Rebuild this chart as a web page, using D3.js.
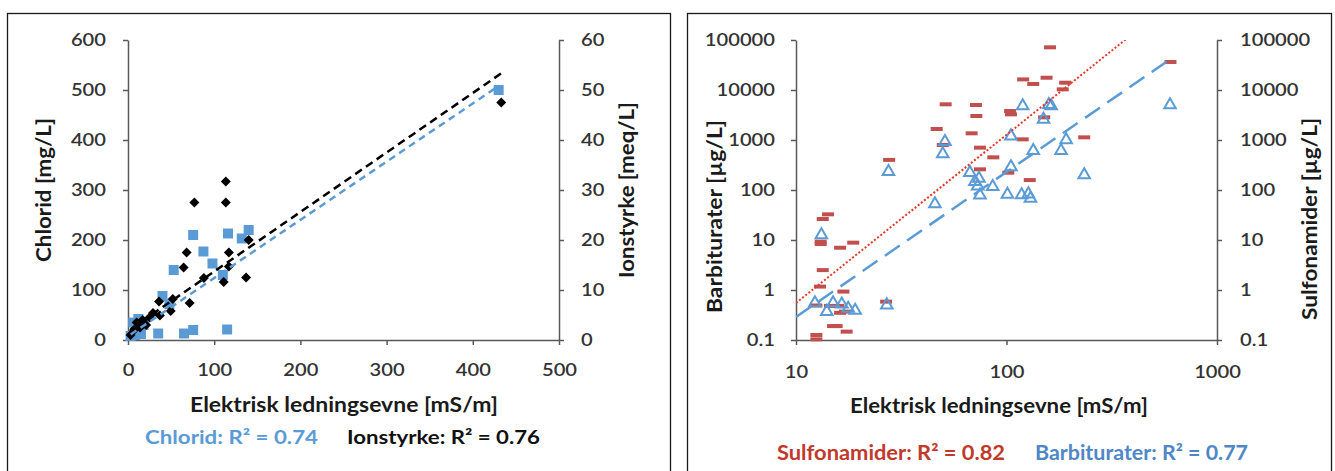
<!DOCTYPE html>
<html>
<head>
<meta charset="utf-8">
<script src="https://cdn.jsdelivr.net/npm/d3@7"></script>
<style>
  body { margin: 0; background: #fff; }
  text { font-family: Lato, "Open Sans", sans-serif; }
</style>
</head>
<body>
<script>
// ---- data ----
// left panel: conductivity [mS/m] vs chloride [mg/L] and ionic strength [meq/L]
var chloridEC  = [75.6, 116, 140, 132, 87.5, 98, 53, 110, 40, 48, 35, 65, 75.6, 115, 430, 3, 6, 12, 8, 15, 18];
var chloridVal = [210, 213, 220, 203, 177, 153, 140, 130, 88, 72, 13, 13, 20, 21, 500, 8, 35, 42, 10, 12, 30];
var ionEC  = [113.5, 113.5, 77, 68, 117, 140, 64.5, 117, 88, 111, 137, 71.5, 52, 49.5, 36, 37, 433, 3, 7, 10, 14, 17, 21, 25, 29];
var ionVal = [31.7, 27.5, 27.5, 17.5, 17.5, 20, 14.5, 14.7, 12.4, 11.6, 12.5, 7.4, 8.2, 5.8, 7.7, 4.9, 47.5, 1, 2, 3.5, 2.5, 4, 3, 4.5, 5.4];
var chloridTrend = [1.164, 7.5];   // slope, intercept
var ionTrend = [0.119, 1.8];
var chloridTicks = [0, 100, 200, 300, 400, 500, 600];
var ionTicks = [0, 10, 20, 30, 40, 50, 60];
var ecTicks = [0, 100, 200, 300, 400, 500];

// right panel: conductivity [mS/m] vs sulfonamides / barbiturates [µg/L]
var sulfoEC  = [161, 120, 134, 155, 190, 185, 51.4, 71.6, 71.9, 104, 105, 151, 46.6, 68.3, 49.8, 74.8, 119.4, 86.6, 74.8, 102, 129, 234, 601, 27.7, 26.8,
                14.2, 13.4, 13.1, 13.1, 16.2, 18.7, 13.4, 13.0, 16.8, 12.5, 14.5, 15.9, 17.1, 16.2, 15.6, 15, 17.4, 12.5, 12.5];
var sulfoVal = [71300, 16300, 13200, 17600, 14000, 10300, 5170, 5010, 3020, 3800, 3260, 2840, 1660, 1360, 794, 703, 1030, 450, 259, 222, 158, 1130, 36300, 400, 0.585,
                32.6, 26.3, 9.26, 8.3, 7.0, 8.85, 2.5, 1.17, 0.93, 0.49, 0.48, 0.48, 0.37, 0.35, 0.19, 0.19, 0.147, 0.126, 0.103];
var barbEC  = [45.7, 13.2, 12.3, 14, 15, 16.5, 17.7, 19.1, 27, 27.5, 51, 49.8, 119.4, 159, 163, 150, 105, 134, 192, 181.6, 105, 67, 70.8, 73, 74, 74.8, 86, 101, 118, 127, 130, 234, 598];
var barbVal = [52.5, 12.6, 0.55, 0.37, 0.55, 0.52, 0.43, 0.39, 0.5, 233, 926, 525, 4790, 5090, 4790, 2590, 1200, 612, 1000, 612, 290, 222, 147, 120, 170, 79, 117, 82, 79.4, 83, 68, 200, 5010];
var sulfoTrend = [3.365, -3.625];  // log10 y = a*log10 x + b
var barbTrend = [2.9, -3.44];
var logYTicks = [0.1, 1, 10, 100, 1000, 10000, 100000];
var logXTicks = [10, 100, 1000];

var blue = "#5b9bd5", red = "#c0504d", axisCol = "#595959", txtCol = "#333";

var svg = d3.select("body").append("svg").attr("width", 1335).attr("height", 471);

// panel frames
svg.append("rect").attr("x", 7.5).attr("y", 13.5).attr("width", 663).attr("height", 470)
  .attr("fill", "none").attr("stroke", "#1a1a1a").attr("stroke-width", 1.3);
svg.append("rect").attr("x", 687.5).attr("y", 13.5).attr("width", 644).attr("height", 470)
  .attr("fill", "none").attr("stroke", "#1a1a1a").attr("stroke-width", 1.3);

function styleAxis(g) {
  g.select(".domain").attr("stroke", axisCol).attr("stroke-width", 1.5);
  g.selectAll(".tick line").attr("stroke", axisCol).attr("stroke-width", 1.5);
  g.selectAll("text").attr("font-size", 18).attr("fill", txtCol).attr("font-weight", 600)
    .style("font-family", "Lato, sans-serif")
    .each(function() {
      var w = this.getComputedTextLength();
      d3.select(this).attr("textLength", w * 1.12).attr("lengthAdjust", "spacingAndGlyphs");
    });
}

function label(x, y, str, opts) {
  var t = svg.append("text")
    .attr("transform", "translate(" + x + "," + y + ")" + (opts.rotate ? " rotate(-90)" : ""))
    .attr("text-anchor", opts.anchor || "start")
    .attr("font-size", opts.size || 20)
    .attr("font-weight", "bold")
    .attr("fill", opts.color || "#1a1a1a")
    .text(str);
  if (opts.width) t.attr("textLength", opts.width).attr("lengthAdjust", "spacingAndGlyphs");
  return t;
}

// ===== left panel =====
var xLin = d3.scaleLinear().domain([0, 500]).range([128, 559]);
var yCl = d3.scaleLinear().domain([0, 600]).range([340, 40]);
var yIon = d3.scaleLinear().domain([0, 60]).range([340, 40]);

svg.append("g").attr("transform", "translate(0,340)")
  .call(d3.axisBottom(xLin).tickValues(ecTicks).tickSize(5).tickPadding(18).tickSizeOuter(0))
  .call(styleAxis);
svg.append("g").attr("transform", "translate(128,0)")
  .call(d3.axisLeft(yCl).tickValues(chloridTicks).tickSize(5).tickPadding(17).tickSizeOuter(0))
  .call(styleAxis);
svg.append("g").attr("transform", "translate(559,0)")
  .call(d3.axisRight(yIon).tickValues(ionTicks).tickSize(5).tickPadding(17).tickSizeOuter(0))
  .call(styleAxis);

svg.append("g").selectAll("path").data(d3.range(chloridEC.length)).join("path")
  .attr("transform", function(i) { return "translate(" + xLin(chloridEC[i]) + "," + yCl(chloridVal[i]) + ")"; })
  .attr("d", d3.symbol(d3.symbolSquare).size(100))
  .attr("fill", blue);

svg.append("g").selectAll("path").data(d3.range(ionEC.length)).join("path")
  .attr("transform", function(i) { return "translate(" + xLin(ionEC[i]) + "," + yIon(ionVal[i]) + ") rotate(45)"; })
  .attr("d", d3.symbol(d3.symbolSquare).size(50))
  .attr("fill", "#000");

var linLine = function(yScale, coef, ext) {
  return d3.line().x(function(d) { return xLin(d); })
    .y(function(d) { return yScale(coef[0] * d + coef[1]); })(ext);
};
svg.append("path").attr("d", linLine(yCl, chloridTrend, d3.extent(chloridEC)))
  .attr("fill", "none").attr("stroke", blue).attr("stroke-width", 2.5).attr("stroke-dasharray", "7,5");
svg.append("path").attr("d", linLine(yIon, ionTrend, d3.extent(ionEC)))
  .attr("fill", "none").attr("stroke", "#000").attr("stroke-width", 2.5).attr("stroke-dasharray", "8,5");

label(190, 412, "Elektrisk ledningsevne [mS/m]", { width: 308 });
label(51, 190, "Chlorid [mg/L]", { rotate: true, anchor: "middle", width: 144 });
label(634, 190, "Ionstyrke [meq/L]", { rotate: true, anchor: "middle", width: 176 });
label(145, 444, "Chlorid: R² = 0.74", { color: blue, width: 173, size: 19.5 });
label(347, 444, "Ionstyrke: R² = 0.76", { color: "#111", width: 193, size: 19.5 });

// ===== right panel =====
var xLog = d3.scaleLog().domain([10, 1000]).range([796, 1217]);
var yLog = d3.scaleLog().domain([0.1, 100000]).range([340, 40]);
var fmt = function(d) { return String(d); };

svg.append("g").attr("transform", "translate(0,340)")
  .call(d3.axisBottom(xLog).tickValues(logXTicks).tickFormat(fmt).tickSize(5).tickPadding(20).tickSizeOuter(0))
  .call(styleAxis);
svg.append("g").attr("transform", "translate(796,0)")
  .call(d3.axisLeft(yLog).tickValues(logYTicks).tickFormat(fmt).tickSize(5).tickPadding(16).tickSizeOuter(0))
  .call(styleAxis);
svg.append("g").attr("transform", "translate(1217,0)")
  .call(d3.axisRight(yLog).tickValues(logYTicks).tickFormat(fmt).tickSize(5).tickPadding(18).tickSizeOuter(0))
  .call(styleAxis);

svg.append("g").selectAll("rect").data(d3.range(sulfoEC.length)).join("rect")
  .attr("x", function(i) { return xLog(sulfoEC[i]) - 6; })
  .attr("y", function(i) { return yLog(sulfoVal[i]) - 2; })
  .attr("width", 12).attr("height", 4)
  .attr("fill", red);

svg.append("g").selectAll("path").data(d3.range(barbEC.length)).join("path")
  .attr("transform", function(i) { return "translate(" + xLog(barbEC[i]) + "," + yLog(barbVal[i]) + ")"; })
  .attr("d", d3.symbol(d3.symbolTriangle).size(58))
  .attr("fill", "none").attr("stroke", blue).attr("stroke-width", 2);

svg.append("clipPath").attr("id", "clipR").append("rect")
  .attr("x", 796).attr("y", 40).attr("width", 421).attr("height", 300);

var powLine = function(coef, ext) {
  return d3.line().x(function(d) { return xLog(d); })
    .y(function(d) { return yLog(Math.pow(10, coef[0] * Math.log10(d) + coef[1])); })(ext);
};
svg.append("path").attr("d", powLine(sulfoTrend, [10, d3.max(sulfoEC)]))
  .attr("clip-path", "url(#clipR)")
  .attr("fill", "none").attr("stroke", "#e0392a").attr("stroke-width", 2).attr("stroke-dasharray", "2,2");
svg.append("path").attr("d", powLine(barbTrend, [10, d3.max(barbEC)]))
  .attr("clip-path", "url(#clipR)")
  .attr("fill", "none").attr("stroke", blue).attr("stroke-width", 2.5).attr("stroke-dasharray", "18,9");

label(850, 413, "Elektrisk ledningsevne [mS/m]", { width: 298 });
label(722, 216.5, "Barbiturater [µg/L]", { rotate: true, anchor: "middle", width: 193 });
label(1317, 219, "Sulfonamider [µg/L]", { rotate: true, anchor: "middle", width: 202 });
label(777, 460, "Sulfonamider: R² = 0.82", { color: "#c0392b", width: 228 });
label(1035, 460, "Barbiturater: R² = 0.77", { color: "#4f86c6", width: 213 });
</script>
</body>
</html>
